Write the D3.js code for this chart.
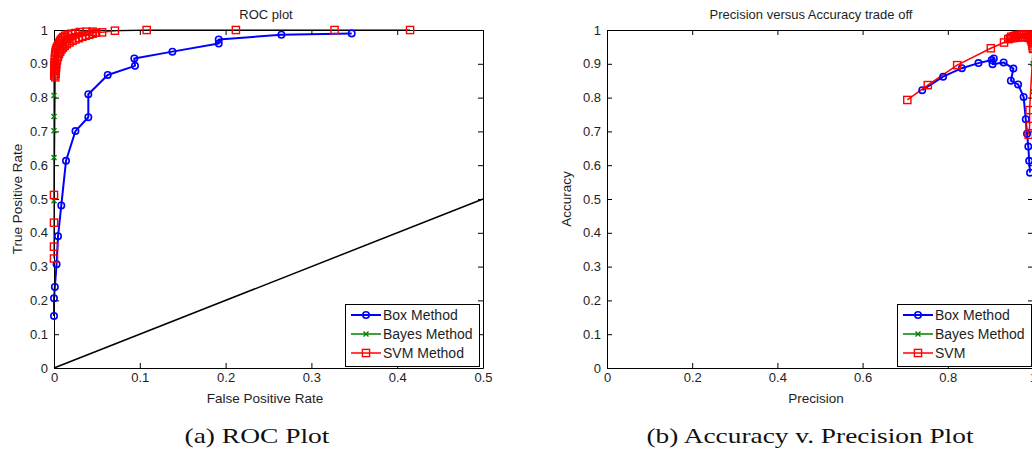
<!DOCTYPE html>
<html>
<head>
<meta charset="utf-8">
<script src="https://cdn.jsdelivr.net/npm/d3@7"></script>
<style>
body{margin:0;background:#fff;}
</style>
</head>
<body>
<svg id="fig" width="1032" height="452"></svg>
<script>
// ---- ROC plot data (false positive rate, true positive rate) ----
var rocBoxFpr = [0, 0, 0.001, 0.003, 0.0047, 0.0085, 0.014, 0.025, 0.040, 0.040, 0.0626, 0.0944, 0.0936, 0.138, 0.192, 0.192, 0.265, 0.347];
var rocBoxTpr = [0.154, 0.206, 0.240, 0.307, 0.390, 0.481, 0.613, 0.701, 0.742, 0.810, 0.867, 0.894, 0.916, 0.936, 0.960, 0.972, 0.986, 0.990];

var rocBayesFpr = [0, 0, 0, 0, 0, 0];
var rocBayesTpr = [0.495, 0.623, 0.702, 0.744, 0.806, 0.90];

var rocSvmFpr = [0, 0, 0, 0,
	0.0015, 0.0003, 0.0018, 0.0004, 0.0021, 0.0005, 0.0024, 0.0006, 0.0027, 0.0008,
	0.0035, 0.0010, 0.0045, 0.0013, 0.0058, 0.0017, 0.0072, 0.0022, 0.0088, 0.0030,
	0.0105, 0.0040, 0.0125, 0.0050, 0.0150, 0.0060, 0.0180, 0.0070, 0.0215, 0.0080,
	0.0250, 0.0095, 0.0290, 0.0110, 0.0330, 0.0130, 0.0370, 0.0160, 0.0410, 0.0200,
	0.0450, 0.0250, 0.0490, 0.0300, 0.0380,
	0.045, 0.056, 0.071, 0.108, 0.212, 0.327, 0.415];
var rocSvmTpr = [0.324, 0.359, 0.430, 0.512,
	0.860, 0.865, 0.870, 0.875, 0.880, 0.885, 0.890, 0.895, 0.900, 0.905,
	0.910, 0.915, 0.920, 0.925, 0.929, 0.933, 0.936, 0.940, 0.943, 0.946,
	0.948, 0.951, 0.953, 0.956, 0.958, 0.961, 0.963, 0.966, 0.968, 0.971,
	0.972, 0.975, 0.976, 0.979, 0.980, 0.983, 0.983, 0.986, 0.986, 0.989,
	0.989, 0.991, 0.992, 0.994, 0.995,
	0.995, 0.993, 0.998, 1.0, 1.0, 1.0, 1.0];

var rocChance = [0, 0.5];
var rocXTicks = [0, 0.1, 0.2, 0.3, 0.4, 0.5];

// ---- precision / accuracy data ----
var paBoxPrec = [0.740, 0.789, 0.833, 0.872, 0.903, 0.908, 0.905, 0.931, 0.954, 0.948, 0.965, 0.978, 0.983, 0.986, 0.989, 0.991, 0.993];
var paBoxAcc = [0.822, 0.862, 0.887, 0.902, 0.911, 0.916, 0.899, 0.904, 0.886, 0.850, 0.839, 0.802, 0.736, 0.693, 0.655, 0.613, 0.578];

var paBayesPrec = [1.0, 1.0];
var paBayesAcc = [0.900, 0.817];

var paSvmPrec = [0.705, 0.753, 0.822, 0.901, 0.932, 0.942,
	0.946, 0.949, 0.952, 0.955, 0.958, 0.961, 0.964, 0.967, 0.970, 0.973, 0.976, 0.979, 0.982, 0.985,
	0.988, 0.990, 0.992, 0.994, 0.995, 0.996, 0.997, 0.998, 0.998, 0.999, 0.999, 1.0, 1.0, 1.0, 1.0,
	0.992, 0.992, 0.990];
var paSvmAcc = [0.793, 0.837, 0.896, 0.946, 0.963, 0.973,
	0.975, 0.980, 0.976, 0.982, 0.977, 0.984, 0.978, 0.985, 0.979, 0.986, 0.979, 0.986, 0.979, 0.986,
	0.978, 0.986, 0.977, 0.985, 0.972, 0.983, 0.966, 0.980, 0.960, 0.976, 0.954, 0.970, 0.948, 0.963, 0.944,
	0.763, 0.716, 0.690];

var paXTicks = [0, 0.2, 0.4, 0.6, 0.8, 1];
var yTicks = [0, 0.1, 0.2, 0.3, 0.4, 0.5, 0.6, 0.7, 0.8, 0.9, 1];

var svg = d3.select("#fig");
var fmt = d3.format("~g");
var sans = "'Liberation Sans', Arial, Helvetica, sans-serif";
var top0 = 30, bottom0 = 368;

function marker(sel, kind, color) {
	if (kind == "o") {
		sel.append("circle").attr("r", 3.2)
			.attr("fill", "none").attr("stroke", color).attr("stroke-width", 1.6);
	} else if (kind == "s") {
		sel.append("rect").attr("x", -3.6).attr("y", -3.6).attr("width", 7.2).attr("height", 7.2)
			.attr("fill", "none").attr("stroke", color).attr("stroke-width", 1.4);
	} else {
		sel.append("path").attr("d", "M-2.5,-2.5L2.5,2.5M-2.5,2.5L2.5,-2.5")
			.attr("fill", "none").attr("stroke", color).attr("stroke-width", 1.4);
	}
}

function styleAxis(a) {
	a.attr("font-family", sans).attr("font-size", 13);
	a.select(".domain").attr("stroke", "#000");
	a.selectAll(".tick line").attr("stroke", "#000");
	a.selectAll("text").attr("fill", "#1e1e1e");
}

function drawPanel(p) {
	var x = d3.scaleLinear().domain(p.xDomain).range([p.left, p.right]);
	var y = d3.scaleLinear().domain([0, 1]).range([bottom0, top0]);
	var g = svg.append("g");
	var line = d3.line()
		.x(function (d) { return x(d[0]); })
		.y(function (d) { return y(d[1]); });

	if (p.diag) {
		g.append("path").datum(d3.zip(p.diag, p.diag)).attr("d", line)
			.attr("fill", "none").attr("stroke", "#000").attr("stroke-width", 1.5);
	}

	p.series.forEach(function (s) {
		g.append("path").datum(d3.zip(s.x, s.y)).attr("d", line)
			.attr("fill", "none").attr("stroke", s.color).attr("stroke-width", s.width)
			.attr("stroke-linejoin", "round");
	});

	// axes box, ticks pointing inward
	styleAxis(g.append("g").attr("transform", "translate(0," + bottom0 + ")")
		.call(d3.axisBottom(x).tickValues(p.xTicks).tickFormat(fmt).tickSize(-5).tickSizeOuter(0).tickPadding(5)));
	styleAxis(g.append("g").attr("transform", "translate(0," + top0 + ")")
		.call(d3.axisTop(x).tickValues(p.xTicks).tickFormat(function () { return ""; }).tickSize(-5).tickSizeOuter(0)));
	styleAxis(g.append("g").attr("transform", "translate(" + p.left + ",0)")
		.call(d3.axisLeft(y).tickValues(yTicks).tickFormat(fmt).tickSize(-5).tickSizeOuter(0).tickPadding(6)));
	styleAxis(g.append("g").attr("transform", "translate(" + p.right + ",0)")
		.call(d3.axisRight(y).tickValues(yTicks).tickFormat(function () { return ""; }).tickSize(-5).tickSizeOuter(0)));

	p.series.forEach(function (s) {
		g.selectAll(null).data(d3.zip(s.x, s.y)).enter().append("g")
			.attr("transform", function (d) { return "translate(" + x(d[0]) + "," + y(d[1]) + ")"; })
			.each(function () { marker(d3.select(this), s.kind, s.color); });
	});

	g.append("text").attr("x", p.titleX).attr("y", 19)
		.attr("text-anchor", "middle").attr("font-family", sans).attr("font-size", 13).attr("fill", "#1e1e1e")
		.text(p.title);
	g.append("text").attr("x", p.xLabelX).attr("y", 403)
		.attr("text-anchor", "middle").attr("font-family", sans).attr("font-size", 13.5).attr("fill", "#1e1e1e")
		.text(p.xLabel);
	g.append("text").attr("transform", "translate(" + p.yLabelX + "," + ((top0 + bottom0) / 2) + ") rotate(-90)")
		.attr("text-anchor", "middle").attr("font-family", sans).attr("font-size", 13.5).attr("fill", "#1e1e1e")
		.text(p.yLabel);

	// legend
	var lg = g.append("g").attr("transform", "translate(" + p.legendX + ",304)");
	lg.append("rect").attr("x", 0.5).attr("y", 0.5).attr("width", 134).attr("height", 62)
		.attr("fill", "#fff").attr("stroke", "#000").attr("stroke-width", 1);
	p.series.forEach(function (s, i) {
		var row = lg.append("g").attr("transform", "translate(0," + (11 + i * 19) + ")");
		row.append("line").attr("x1", 6).attr("x2", 36).attr("y1", 0).attr("y2", 0)
			.attr("stroke", s.color).attr("stroke-width", s.width);
		marker(row.append("g").attr("transform", "translate(21,0)"), s.kind, s.color);
		row.append("text").attr("x", 38).attr("y", 5)
			.attr("font-family", sans).attr("font-size", 14).attr("fill", "#1e1e1e")
			.text(s.name);
	});

	svg.append("text").attr("x", p.captionX).attr("y", 443)
		.attr("text-anchor", "middle").attr("font-family", "'Liberation Serif', 'Times New Roman', serif")
		.attr("font-size", 21).attr("fill", "#111")
		.attr("textLength", p.captionW).attr("lengthAdjust", "spacingAndGlyphs")
		.text(p.caption);
}

drawPanel({
	left: 54, right: 483, xDomain: [0, 0.5], xTicks: rocXTicks,
	diag: rocChance,
	title: "ROC plot", titleX: 266,
	xLabel: "False Positive Rate", xLabelX: 265,
	yLabel: "True Positive Rate", yLabelX: 22,
	legendX: 345,
	caption: "(a) ROC Plot", captionX: 257, captionW: 145,
	series: [
		{name: "Box Method", x: rocBoxFpr, y: rocBoxTpr, color: "#0000ff", width: 2, kind: "o"},
		{name: "Bayes Method", x: rocBayesFpr, y: rocBayesTpr, color: "#008000", width: 1.5, kind: "x"},
		{name: "SVM Method", x: rocSvmFpr, y: rocSvmTpr, color: "#ff0000", width: 1.5, kind: "s"}
	]
});

drawPanel({
	left: 607, right: 1033, xDomain: [0, 1], xTicks: paXTicks,
	diag: null,
	title: "Precision versus Accuracy trade off", titleX: 811,
	xLabel: "Precision", xLabelX: 816,
	yLabel: "Accuracy", yLabelX: 571,
	legendX: 897,
	caption: "(b) Accuracy v. Precision Plot", captionX: 810, captionW: 327,
	series: [
		{name: "Box Method", x: paBoxPrec, y: paBoxAcc, color: "#0000ff", width: 2, kind: "o"},
		{name: "Bayes Method", x: paBayesPrec, y: paBayesAcc, color: "#008000", width: 1.5, kind: "x"},
		{name: "SVM", x: paSvmPrec, y: paSvmAcc, color: "#ff0000", width: 1.5, kind: "s"}
	]
});
</script>
</body>
</html>
